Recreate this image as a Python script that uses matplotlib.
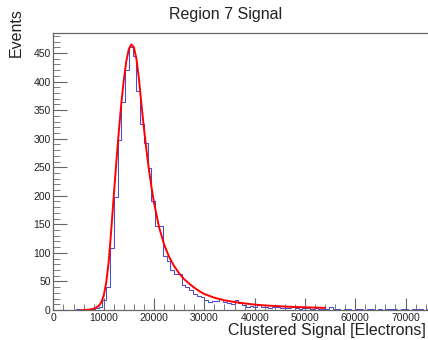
import matplotlib
matplotlib.use("Agg")
import matplotlib.pyplot as plt
import numpy as np
from matplotlib.ticker import MultipleLocator

plt.rcParams['font.family'] = ['Liberation Sans', 'DejaVu Sans']

# histogram: 100 bins from 0 to 75000 electrons
x_min, x_max, n_bins = 0, 75000, 100
counts = [0, 0, 0, 0, 0, 0, 1, 0, 0, 1,
          1, 3, 6, 17, 41, 108, 198, 297, 364, 421,
          461, 444, 384, 326, 292, 249, 190, 147, 147, 94,
          85, 70, 63, 63, 44, 41, 35, 28, 24, 22,
          17, 14, 16, 15, 19, 14, 12, 11, 17, 13,
          8, 6, 7, 5, 8, 5, 6, 4, 5, 6,
          4, 3, 4, 5, 3, 2, 4, 3, 2, 3,
          2, 1, 2, 6, 1, 1, 0, 2, 1, 0,
          1, 2, 0, 2, 1, 0, 2, 0, 1, 2,
          1, 0, 2, 1, 0, 2, 1, 2, 0, 1]

# fit curve
fit_x = [5600, 7000, 8000, 9000, 9500, 10000, 10500, 11000, 11500, 12000,
         12500, 13000, 13500, 14000, 14500, 15000, 15500, 16000, 16500, 17000,
         17500, 18000, 18500, 19000, 19500, 20000, 21000, 22000, 23000, 24000,
         25000, 26000, 27000, 28000, 29000, 30000, 32000, 34000, 36000, 38000,
         40000, 42000, 44000, 46000, 48000, 50000, 52000, 54000]
fit_y = [0, 0.5, 2, 7, 13, 25, 48, 85, 140, 200,
         258, 312, 362, 403, 436, 457, 465, 460, 440, 405,
         360, 318, 280, 245, 215, 188, 145, 115, 93, 77,
         64, 54, 46, 39, 33, 28, 21.5, 17, 14, 11.5,
         9.5, 8, 7, 6, 5.3, 4.7, 4.2, 3.8]

title = "Region 7 Signal"
x_label = "Clustered Signal [Electrons]"
y_label = "Events"

W, H = 428, 340
fig = plt.figure(figsize=(W / 100, H / 100), dpi=100)
ax = fig.add_axes([53.4 / W, 30 / H, 377.3 / W, 277 / H])

edges = np.linspace(x_min, x_max, n_bins + 1)
ax.stairs(counts, edges, color='#4a4ad2', linewidth=0.75, baseline=None)
ax.plot(fit_x, fit_y, color='#ff0000', linewidth=1.4)

ax.set_xlim(x_min, x_max)
ax.set_ylim(0, 485)

gray = '#666666'
for s in ax.spines.values():
    s.set_color(gray)
    s.set_linewidth(0.9)

ax.xaxis.set_major_locator(MultipleLocator(10000))
ax.xaxis.set_minor_locator(MultipleLocator(2000))
ax.yaxis.set_major_locator(MultipleLocator(50))
ax.yaxis.set_minor_locator(MultipleLocator(10))
ax.tick_params(which='both', direction='in', colors=gray, labelcolor='#222222',
               labelsize=7.5, top=False, right=False)
ax.tick_params(axis='x', which='major', length=9, pad=2)
ax.tick_params(axis='x', which='minor', length=4.5)
ax.tick_params(axis='y', which='major', length=10, pad=2)
ax.tick_params(axis='y', which='minor', length=5)

fig.text(226 / W, 1 - 15 / H, title, ha='center', va='center', fontsize=11.5,
         color='#222222')
fig.text(426 / W, 1 - 330 / H, x_label, ha='right', va='center', fontsize=11.5,
         color='#222222')
fig.text(16 / W, 1 - 8 / H, y_label, ha='center', va='top', rotation=90,
         fontsize=11.5, color='#222222')

fig.savefig('out.png', dpi=100)
